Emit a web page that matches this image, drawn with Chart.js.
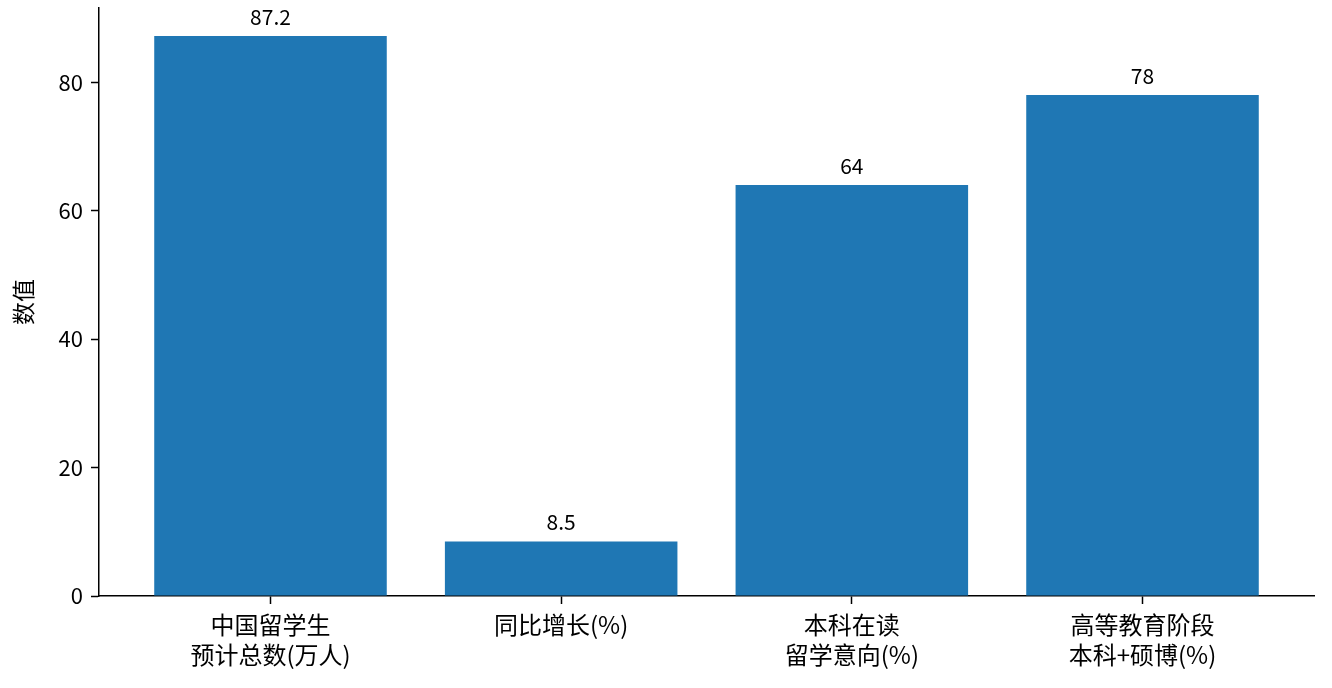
<!DOCTYPE html>
<html>
<head>
<meta charset="utf-8">
<script src="https://cdn.jsdelivr.net/npm/chart.js@4"></script>
<style>
  html, body { margin: 0; padding: 0; background: #fff; }
  #wrap { width: 1332px; height: 688px; }
</style>
</head>
<body>
<div id="wrap"><canvas id="myChart"></canvas></div>
<script>
const categories = [
  ["中国留学生", "预计总数(万人)"],
  ["同比增长(%)"],
  ["本科在读", "留学意向(%)"],
  ["高等教育阶段", "本科+硕博(%)"],
];
const values = [87.2, 8.5, 64, 78];
const valueLabels = ["87.2", "8.5", "64", "78"];
const yTicks = [0, 20, 40, 60, 80];

const FONT = "'Noto Sans CJK SC', 'Noto Sans', sans-serif";

// 柱顶数值
const barLabels = {
  id: "barLabels",
  afterDatasetsDraw(chart) {
    const ctx = chart.ctx;
    const meta = chart.getDatasetMeta(0);
    ctx.save();
    ctx.font = "21px " + FONT;
    ctx.fillStyle = "#000";
    ctx.textAlign = "center";
    ctx.textBaseline = "alphabetic";
    meta.data.forEach((bar, i) => {
      ctx.fillText(valueLabels[i], bar.x, bar.y - 11);
    });
    ctx.restore();
  },
};

const ctx = document.getElementById("myChart");
new Chart(ctx, {
  type: "bar",
  data: {
    datasets: [
      {
        data: values.map((v, i) => ({ x: i, y: v })),
        backgroundColor: "#1f77b4",
        categoryPercentage: 1,
        barPercentage: 0.8,
      },
    ],
  },
  plugins: [barLabels],
  options: {
    responsive: true,
    maintainAspectRatio: false,
    animation: false,
    layout: { padding: { left: 0, top: 8, right: 18, bottom: 0 } },
    plugins: {
      legend: { display: false },
      tooltip: { enabled: false },
    },
    scales: {
      x: {
        type: "linear",
        min: -0.59,
        max: 3.59,
        offset: false,
        afterBuildTicks: (axis) => {
          axis.ticks = categories.map((_, i) => ({ value: i }));
        },
        afterFit: (axis) => {
          axis.height = 92;
          axis.paddingLeft = 0;
          axis.paddingRight = 0;
        },
        grid: {
          offset: false,
          drawOnChartArea: false,
          tickLength: 8,
          tickColor: "#000",
          tickWidth: 1.5,
        },
        border: { display: true, color: "#000", width: 1.5 },
        ticks: {
          color: "#000",
          padding: 6,
          maxRotation: 0,
          autoSkip: false,
          font: { family: FONT, size: 24, lineHeight: 1.25 },
          callback: (v) => categories[v],
        },
      },
      y: {
        min: 0,
        max: 91.56,
        afterBuildTicks: (axis) => {
          axis.ticks = yTicks.map((v) => ({ value: v }));
        },
        afterFit: (axis) => {
          axis.width = 99;
          axis.paddingTop = 0;
          axis.paddingBottom = 0;
        },
        grid: {
          drawOnChartArea: false,
          tickLength: 8,
          tickColor: "#000",
          tickWidth: 1.5,
        },
        border: { display: true, color: "#000", width: 1.5 },
        ticks: {
          color: "#000",
          padding: 8,
          font: { family: FONT, size: 22 },
        },
        title: {
          display: true,
          text: "数值",
          color: "#000",
          padding: { top: 9, bottom: 0 },
          font: { family: FONT, size: 23 },
        },
      },
    },
  },
});
</script>
</body>
</html>
